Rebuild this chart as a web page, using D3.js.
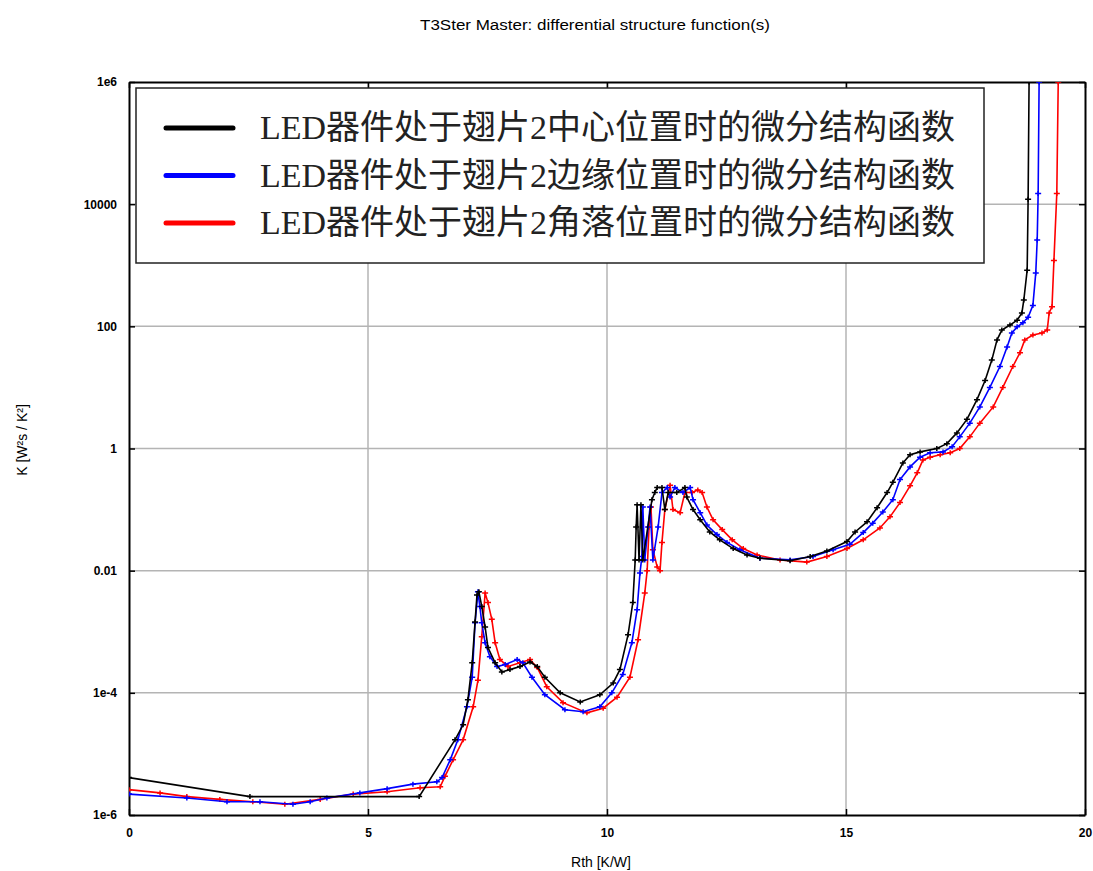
<!DOCTYPE html>
<html>
<head>
<meta charset="utf-8">
<title>T3Ster Master: differential structure function(s)</title>
<script src="https://cdn.jsdelivr.net/npm/d3@7"></script>
<style>
  body { margin: 0; background: #fff; }
  svg { display: block; }
</style>
</head>
<body>
<div id="chart"></div>
<script>
// --- data: Rth [K/W] and K [W^2s/K^2] ---
var seriesNames = [
  "LED器件处于翅片2中心位置时的微分结构函数",
  "LED器件处于翅片2边缘位置时的微分结构函数",
  "LED器件处于翅片2角落位置时的微分结构函数"
];
var seriesColors = ["#000000", "#0000ff", "#ff0000"];

var centerRth = [0, 2.53, 6.07, 6.82, 6.99, 7.09, 7.18, 7.24, 7.28, 7.32, 7.38, 7.45, 7.51, 7.66, 7.80, 7.97, 8.18, 8.39, 8.54, 8.70, 9.02, 9.44, 9.85, 10.13, 10.27, 10.44, 10.54, 10.59, 10.61, 10.63, 10.67, 10.71, 10.75, 10.94, 11.00, 11.05, 11.15, 11.21, 11.28, 11.46, 11.63, 11.67, 11.80, 11.95, 12.15, 12.36, 12.64, 12.93, 13.20, 13.83, 14.25, 14.60, 15.02, 15.19, 15.44, 15.65, 15.86, 15.98, 16.19, 16.34, 16.55, 16.90, 17.11, 17.32, 17.53, 17.74, 17.91, 18.05, 18.16, 18.26, 18.43, 18.58, 18.68, 18.72, 18.79, 18.81, 18.83, 18.835];
var centerK = [4.1e-6, 2.0e-6, 2.0e-6, 1.7e-5, 3.0e-5, 7.7e-5, 3.1e-4, 1.45e-3, 4.0e-3, 4.5e-3, 2.6e-3, 1.2e-3, 5.5e-4, 3.1e-4, 2.2e-4, 2.4e-4, 2.7e-4, 3.2e-4, 2.7e-4, 1.8e-4, 1.0e-4, 7.1e-5, 9.3e-5, 1.45e-4, 2.4e-4, 8.9e-4, 3.0e-3, 0.015, 0.052, 0.12, 0.015, 0.12, 0.015, 0.145, 0.19, 0.23, 0.23, 0.10, 0.19, 0.19, 0.23, 0.16, 0.10, 0.068, 0.043, 0.032, 0.023, 0.018, 0.016, 0.0145, 0.017, 0.021, 0.030, 0.043, 0.063, 0.107, 0.19, 0.28, 0.58, 0.79, 0.88, 1.0, 1.2, 1.8, 3.0, 6.3, 13, 28, 60, 87, 105, 126, 166, 270, 830, 1.2e4, 1e6, 3e6];

var edgeRth = [0, 1.21, 2.05, 2.74, 3.43, 3.79, 4.14, 4.83, 5.40, 5.94, 6.44, 6.55, 6.72, 6.88, 7.07, 7.18, 7.24, 7.30, 7.34, 7.38, 7.45, 7.55, 7.70, 7.87, 8.12, 8.24, 8.43, 8.70, 9.12, 9.50, 9.85, 10.10, 10.33, 10.52, 10.63, 10.69, 10.73, 10.75, 10.79, 10.86, 10.90, 10.96, 11.07, 11.15, 11.26, 11.32, 11.42, 11.59, 11.74, 11.80, 11.95, 12.09, 12.30, 12.51, 12.78, 13.20, 13.83, 14.31, 14.73, 15.08, 15.36, 15.56, 15.77, 15.98, 16.13, 16.34, 16.55, 16.76, 17.03, 17.22, 17.38, 17.59, 17.80, 18.01, 18.22, 18.37, 18.47, 18.58, 18.70, 18.81, 18.91, 18.97, 19.00, 19.02, 19.04, 19.045];
var edgeK = [2.2e-6, 1.9e-6, 1.65e-6, 1.65e-6, 1.5e-6, 1.65e-6, 1.9e-6, 2.3e-6, 2.7e-6, 3.2e-6, 3.5e-6, 4.1e-6, 8e-6, 1.7e-5, 5.9e-5, 1.8e-4, 1.4e-3, 4.5e-3, 2.6e-3, 1.4e-3, 6.6e-4, 3.9e-4, 2.7e-4, 2.9e-4, 3.5e-4, 3.1e-4, 1.8e-4, 9.3e-5, 5.3e-5, 4.9e-5, 5.9e-5, 1.0e-4, 2.0e-4, 6.6e-4, 2.3e-3, 9.2e-3, 0.017, 0.11, 0.015, 0.052, 0.11, 0.015, 0.052, 0.19, 0.23, 0.16, 0.23, 0.19, 0.23, 0.145, 0.089, 0.056, 0.039, 0.029, 0.022, 0.016, 0.015, 0.017, 0.022, 0.027, 0.042, 0.060, 0.091, 0.145, 0.31, 0.50, 0.72, 0.85, 0.88, 1.07, 1.55, 2.6, 4.8, 10, 22, 46, 78, 98, 114, 141, 220, 750, 2600, 1.5e4, 1e6, 3e6];

var cornerRth = [0, 0.65, 1.21, 1.90, 2.59, 3.26, 4.00, 4.69, 5.40, 6.09, 6.51, 6.61, 6.78, 6.99, 7.20, 7.30, 7.38, 7.45, 7.51, 7.59, 7.66, 7.76, 7.93, 8.18, 8.39, 8.54, 8.74, 9.08, 9.58, 9.92, 10.21, 10.48, 10.65, 10.79, 10.84, 10.88, 10.92, 10.96, 11.05, 11.11, 11.15, 11.21, 11.32, 11.38, 11.53, 11.63, 11.78, 11.90, 11.99, 12.09, 12.22, 12.41, 12.62, 12.85, 13.14, 13.62, 14.18, 14.60, 15.02, 15.36, 15.71, 15.92, 16.13, 16.34, 16.49, 16.61, 16.76, 16.97, 17.18, 17.38, 17.59, 17.80, 18.08, 18.28, 18.49, 18.64, 18.74, 18.91, 19.10, 19.21, 19.25, 19.31, 19.35, 19.41, 19.44, 19.445];
var cornerK = [2.6e-6, 2.3e-6, 2.0e-6, 1.8e-6, 1.65e-6, 1.5e-6, 1.8e-6, 2.2e-6, 2.4e-6, 2.8e-6, 2.9e-6, 4.3e-6, 8e-6, 1.7e-5, 5.9e-5, 1.6e-4, 8.3e-4, 4.3e-3, 3.0e-3, 1.6e-3, 6.6e-4, 3.5e-4, 2.7e-4, 3.1e-4, 3.5e-4, 2.6e-4, 1.26e-4, 6.9e-5, 4.7e-5, 5.6e-5, 8.5e-5, 1.8e-4, 7.4e-4, 4.3e-3, 0.010, 0.052, 0.11, 0.022, 0.0115, 0.010, 0.029, 0.10, 0.25, 0.10, 0.089, 0.19, 0.19, 0.21, 0.19, 0.11, 0.068, 0.047, 0.032, 0.023, 0.018, 0.015, 0.0138, 0.017, 0.023, 0.032, 0.050, 0.076, 0.13, 0.245, 0.40, 0.65, 0.72, 0.79, 0.85, 1.0, 1.55, 2.6, 4.8, 10, 22, 37, 60, 72, 78, 87, 166, 210, 1200, 1.5e4, 1e6, 3e6];

var xTicks = [0, 5, 10, 15, 20];
var xTickLabels = ["0", "5", "10", "15", "20"];
var yTicks = [1e-6, 1e-4, 0.01, 1, 100, 1e4, 1e6];
var yTickLabels = ["1e-6", "1e-4", "0.01", "1", "100", "10000", "1e6"];

// --- layout ---
var W = 1093, H = 871;
var mLeft = 129, mRight = 1085, mTop = 82, mBottom = 815;

var svg = d3.select("#chart").append("svg")
    .attr("width", W).attr("height", H);

var x = d3.scaleLinear().domain([0, 20]).range([mLeft, mRight]);
var y = d3.scaleLog().domain([1e-6, 1e6]).range([mBottom, mTop]);

svg.append("defs").append("clipPath").attr("id", "plot")
  .append("rect").attr("x", mLeft).attr("y", mTop)
  .attr("width", mRight - mLeft).attr("height", mBottom - mTop);

// grid
var grid = svg.append("g").attr("stroke", "#b4b4b4").attr("stroke-width", 1.5);
grid.selectAll("line.gx").data(xTicks.slice(1, -1)).enter().append("line")
    .attr("x1", d => x(d)).attr("x2", d => x(d))
    .attr("y1", mTop).attr("y2", mBottom);
grid.selectAll("line.gy").data(yTicks.slice(1, -1)).enter().append("line")
    .attr("x1", mLeft).attr("x2", mRight)
    .attr("y1", d => y(d)).attr("y2", d => y(d));

// axes (ticks inside, on all four sides)
var fmtY = d => yTickLabels[yTicks.indexOf(d)];
var fmtX = d => xTickLabels[xTicks.indexOf(d)];

var gL = svg.append("g").attr("transform", "translate(" + mLeft + ",0)")
  .call(d3.axisLeft(y).tickValues(yTicks).tickFormat(fmtY).tickSizeInner(-6).tickSizeOuter(0).tickPadding(12));
var gB = svg.append("g").attr("transform", "translate(0," + mBottom + ")")
  .call(d3.axisBottom(x).tickValues(xTicks).tickFormat(fmtX).tickSizeInner(-6).tickSizeOuter(0).tickPadding(13));
var gR = svg.append("g").attr("transform", "translate(" + mRight + ",0)")
  .call(d3.axisRight(y).tickValues(yTicks).tickFormat("").tickSizeInner(-6).tickSizeOuter(0));
var gT = svg.append("g").attr("transform", "translate(0," + mTop + ")")
  .call(d3.axisTop(x).tickValues(xTicks).tickFormat("").tickSizeInner(-6).tickSizeOuter(0));

[gL, gB, gR, gT].forEach(function(g) {
  g.select(".domain").attr("stroke", "#000").attr("stroke-width", 2);
  g.selectAll(".tick line").attr("stroke", "#000").attr("stroke-width", 1.5);
  g.selectAll(".tick text").attr("font-family", "Liberation Sans, Arial, sans-serif")
    .attr("font-size", 12).attr("font-weight", "bold").attr("fill", "#000");
});

// series
var series = [
  { name: seriesNames[0], color: seriesColors[0], xs: centerRth, ks: centerK },
  { name: seriesNames[1], color: seriesColors[1], xs: edgeRth, ks: edgeK },
  { name: seriesNames[2], color: seriesColors[2], xs: cornerRth, ks: cornerK }
];

var line = d3.line().x(d => x(d[0])).y(d => y(d[1]));
var plot = svg.append("g").attr("clip-path", "url(#plot)");

// draw red first, then blue, black on top
series.slice().reverse().forEach(function(s) {
  var pts = s.xs.map((v, i) => [v, s.ks[i]]);
  plot.append("path").datum(pts)
    .attr("fill", "none").attr("stroke", s.color).attr("stroke-width", 1.6)
    .attr("d", line);
  plot.selectAll(null).data(pts).enter().append("path")
    .attr("transform", d => "translate(" + x(d[0]) + "," + y(d[1]) + ")")
    .attr("d", "M-3,0H3M0,-2.5V2.5")
    .attr("stroke", s.color).attr("stroke-width", 1.5);
});

// legend
var lg = svg.append("g");
lg.append("rect").attr("x", 136).attr("y", 88).attr("width", 848).attr("height", 175)
  .attr("fill", "#fff").attr("stroke", "#222").attr("stroke-width", 1.5);
series.forEach(function(s, i) {
  var ly = 128 + i * 47.5;
  lg.append("line").attr("x1", 166).attr("x2", 233).attr("y1", ly).attr("y2", ly)
    .attr("stroke", s.color).attr("stroke-width", 5).attr("stroke-linecap", "round");
  lg.append("text").attr("x", 260).attr("y", ly + 11)
    .attr("font-family", "'Liberation Serif', 'Noto Sans CJK SC', serif")
    .attr("font-size", 34).attr("fill", "#222").text(s.name);
});

// titles
svg.append("text").attr("x", 595).attr("y", 30).attr("text-anchor", "middle")
  .attr("font-family", "Liberation Sans, Arial, sans-serif").attr("font-size", 14)
  .attr("textLength", 350).attr("lengthAdjust", "spacingAndGlyphs")
  .text("T3Ster Master: differential structure function(s)");
svg.append("text").attr("x", 601).attr("y", 867).attr("text-anchor", "middle")
  .attr("font-family", "Liberation Sans, Arial, sans-serif").attr("font-size", 14)
  .text("Rth  [K/W]");
svg.append("text").attr("transform", "translate(27,440) rotate(-90)").attr("text-anchor", "middle")
  .attr("font-family", "Liberation Sans, Arial, sans-serif").attr("font-size", 14)
  .text("K  [W²s / K²]");
</script>
</body>
</html>
